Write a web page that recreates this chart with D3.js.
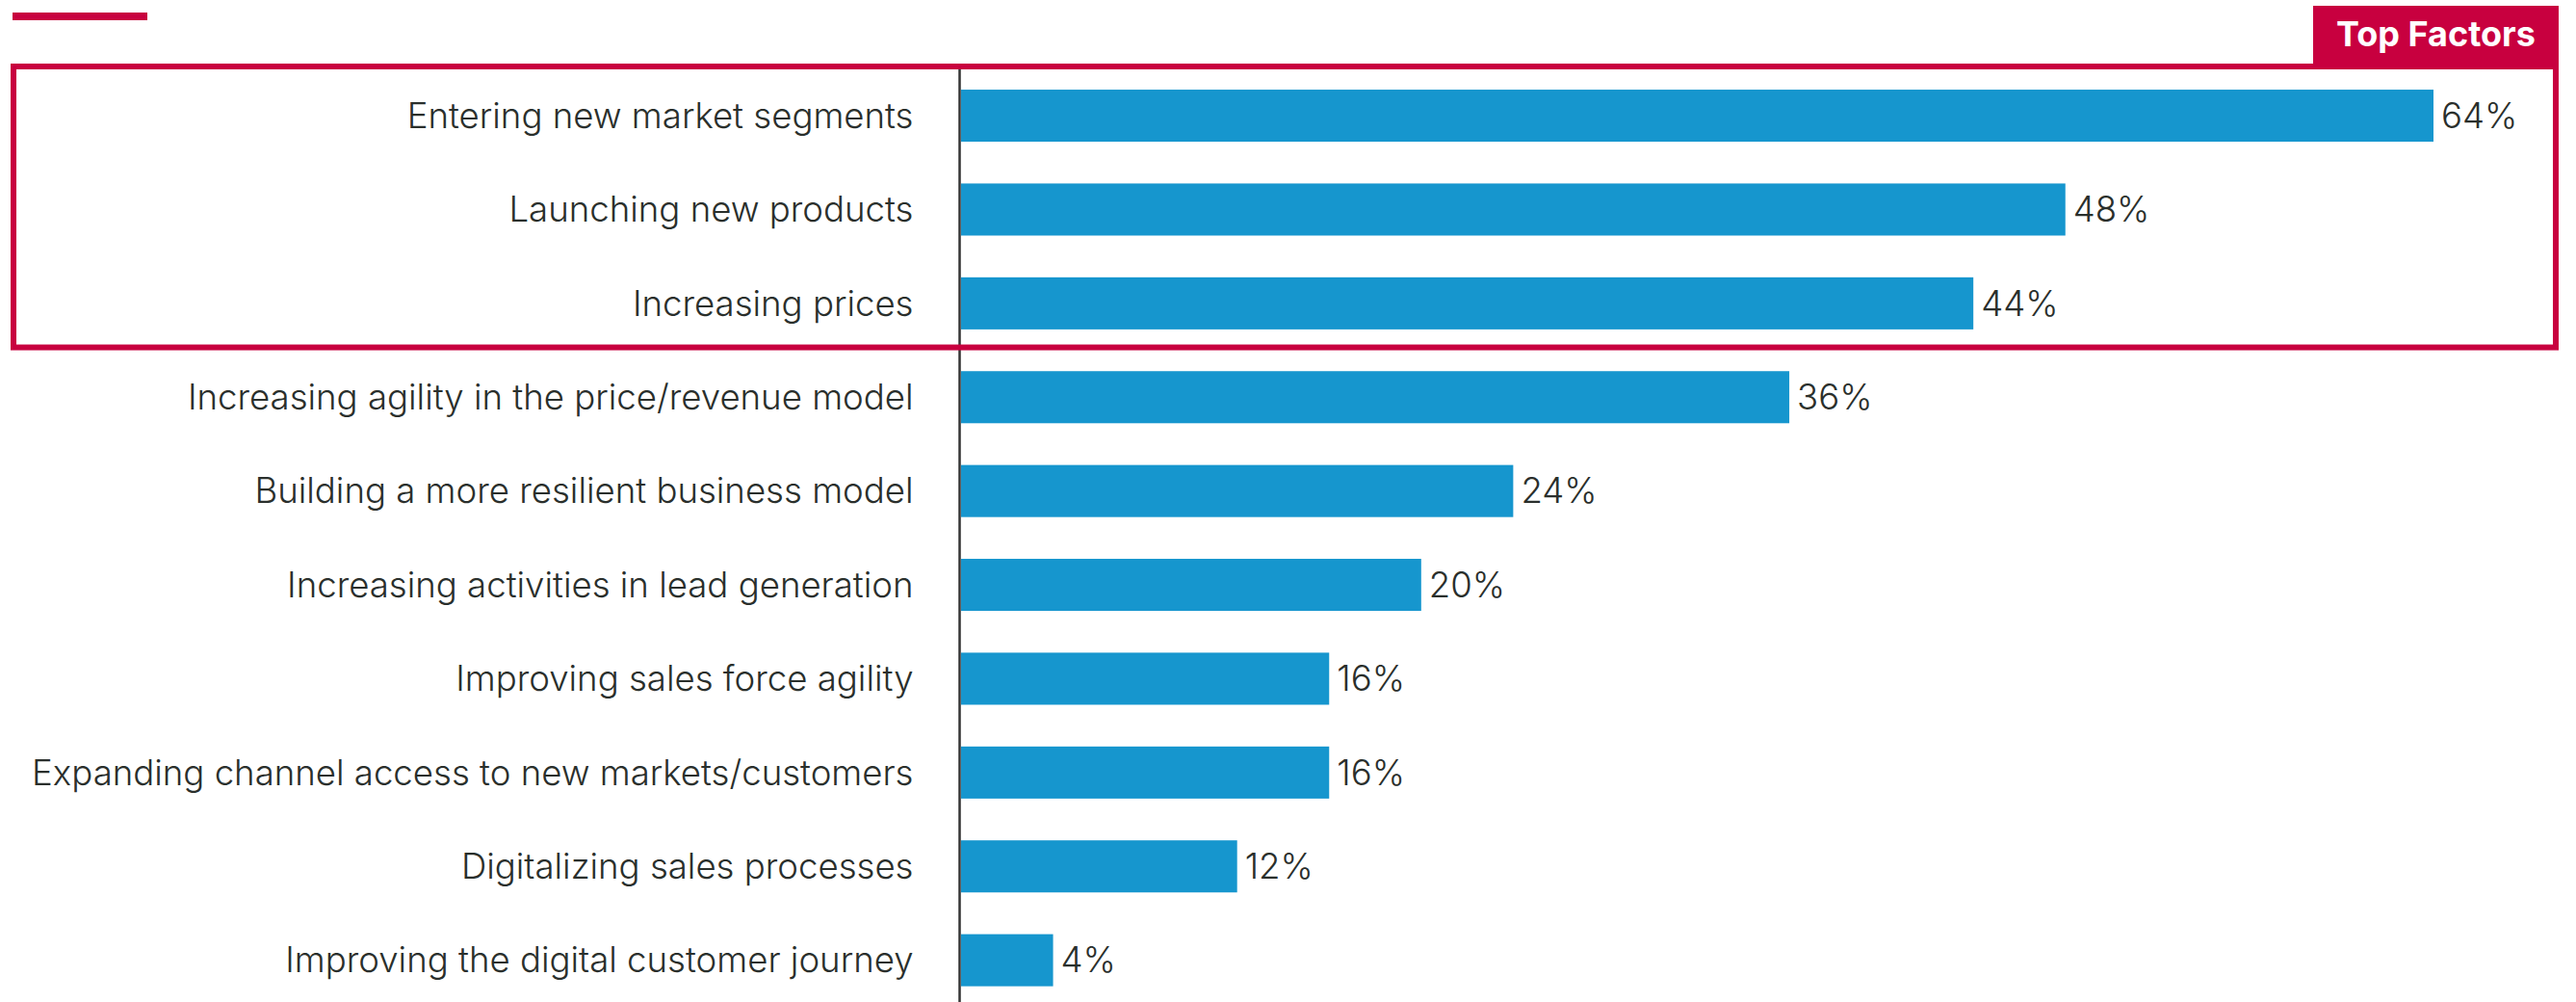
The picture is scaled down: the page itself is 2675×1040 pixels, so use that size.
<!DOCTYPE html>
<html>
<head>
<meta charset="utf-8">
<script src="https://cdn.jsdelivr.net/npm/d3@7"></script>
<style>
  html, body { margin: 0; padding: 0; background: #ffffff; }
  svg { display: block; }
</style>
</head>
<body>
<svg id="chart" width="2675" height="1040"></svg>
<script>
// Survey answers, share of respondents (%)
const categories = [
  "Entering new market segments",
  "Launching new products",
  "Increasing prices",
  "Increasing agility in the price/revenue model",
  "Building a more resilient business model",
  "Increasing activities in lead generation",
  "Improving sales force agility",
  "Expanding channel access to new markets/customers",
  "Digitalizing sales processes",
  "Improving the digital customer journey"
];
const values = [64, 48, 44, 36, 24, 20, 16, 16, 12, 4];
const highlightCount = 3;
const highlightTitle = "Top Factors";

const RED = "#c8003f";
const BLUE = "#1696ce";
const TEXT = "#2a2f2c";
const FONT = "Inter, 'Noto Sans', sans-serif";

const svg = d3.select("#chart");

const x = d3.scaleLinear().domain([0, 64]).range([998, 2527]);
const y = d3.scaleBand()
  .domain(categories)
  .range([49.7, 1067])
  .padding(0.445);

// short accent rule in the top-left corner
svg.append("rect")
  .attr("x", 13).attr("y", 13).attr("width", 140).attr("height", 8)
  .attr("fill", RED);

// bars
svg.append("g")
  .selectAll("rect")
  .data(values)
  .join("rect")
  .attr("x", x(0))
  .attr("y", (d, i) => y(categories[i]))
  .attr("width", d => x(d) - x(0))
  .attr("height", y.bandwidth())
  .attr("fill", BLUE);

// value labels
svg.append("g")
  .selectAll("text")
  .data(values)
  .join("text")
  .attr("x", d => x(d) + 8)
  .attr("y", (d, i) => y(categories[i]) + y.bandwidth() / 2)
  .attr("dy", "0.35em")
  .attr("font-family", FONT)
  .attr("font-weight", 300)
  .attr("font-size", 36.6)
  .attr("fill", TEXT)
  .text(d => d + "%");

// category axis
const axis = d3.axisLeft(y).tickSize(0).tickPadding(0);
const gAxis = svg.append("g")
  .attr("transform", `translate(${x(0) - 1.5},0)`)
  .call(axis);
gAxis.select(".domain").remove();
gAxis.selectAll("text")
  .attr("x", -48)
  .attr("dy", "0.35em")
  .attr("font-family", FONT)
  .attr("font-weight", 300)
  .attr("font-size", 36.6)
  .attr("fill", TEXT)
  .attr("text-anchor", "end");

svg.append("line")
  .attr("x1", x(0) - 1.5).attr("x2", x(0) - 1.5)
  .attr("y1", 72).attr("y2", 1040)
  .attr("stroke", "#333333")
  .attr("stroke-width", 2.5);

// highlight frame around the leading answers
const step = y.step();
const frameTop = 69;
const frameBottom = y(categories[highlightCount - 1]) + y.bandwidth() + (step - y.bandwidth()) / 2 - 3;
svg.append("rect")
  .attr("x", 14).attr("y", frameTop)
  .attr("width", 2654 - 14).attr("height", frameBottom - frameTop)
  .attr("fill", "none")
  .attr("stroke", RED)
  .attr("stroke-width", 6);

// tab carrying the frame title
svg.append("rect")
  .attr("x", 2402).attr("y", 6)
  .attr("width", 2657 - 2402).attr("height", 63)
  .attr("fill", RED);
svg.append("text")
  .attr("x", (2402 + 2657) / 2)
  .attr("y", 48)
  .attr("text-anchor", "middle")
  .attr("font-family", FONT)
  .attr("font-weight", 700)
  .attr("font-size", 36)
  .attr("fill", "#ffffff")
  .text(highlightTitle);
</script>
</body>
</html>
